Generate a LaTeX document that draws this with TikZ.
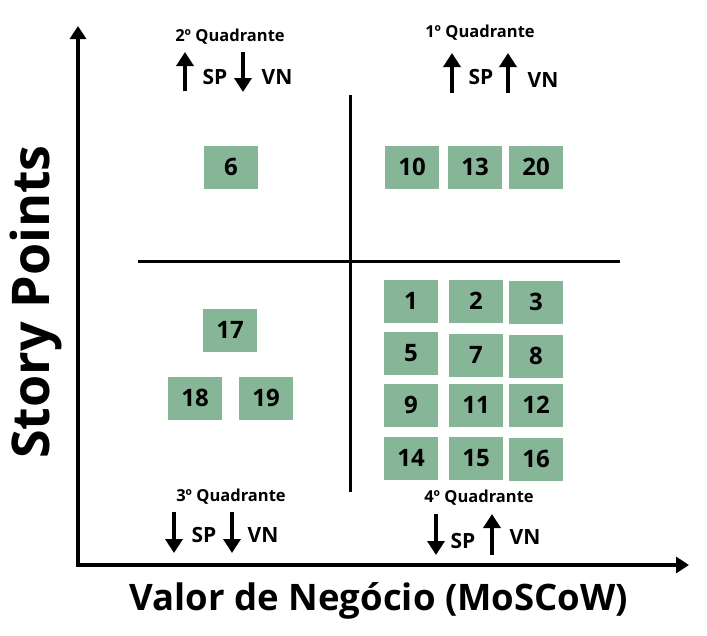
\documentclass[tikz,border=0pt]{standalone}
\usepackage{fontspec}
\setmainfont{Open Sans}
\usetikzlibrary{arrows.meta}
\definecolor{cardgreen}{RGB}{134,181,152}
\tikzset{
    x=1pt, y=-1pt,
    card/.style={fill=cardgreen, draw=white, line width=0.8pt, minimum width=55pt, minimum height=44pt, inner sep=0pt, font=\fontsize{24}{26}\selectfont\bfseries},
    axis/.style={{Triangle[length=13pt,width=16pt]}-{Triangle[length=13pt,width=16pt]}, line width=4pt},
    divider/.style={line width=3pt},
    trend/.style={-{Triangle[length=14pt,width=17pt]}, line width=3.6pt},
    quad/.style={font=\fontsize{16.5}{18}\selectfont\bfseries},
    tag/.style={font=\fontsize{21}{23}\selectfont\bfseries}
}
\begin{document}
\begin{tikzpicture}
\useasboundingbox (0,0) rectangle (707,635);

% axes
\coordinate (top) at (78,26);
\coordinate (origin) at (78,565);
\coordinate (right) at (689,565);
\draw[axis] (top) -- (origin) -- (right);
\node[font=\fontsize{36.5}{38}\selectfont\bfseries] (xlabel) at (379,601) {Valor de Negócio (MoSCoW)};
\node[font=\fontsize{52}{54}\selectfont\bfseries, rotate=90] (ylabel) at (36,302) {Story Points};

% quadrant lines
\draw[divider] (350,95) -- (350,492);
\draw[divider] (138,261) -- (620,261);

% 2nd quadrant
\node[quad] (q2) at (230,37) {2º Quadrante};
\draw[trend] (185,91) -- ++(0,-39);
\node[tag] (q2sp) at (215,77) {SP};
\draw[trend] (243,52) -- ++(0,40);
\node[tag] (q2vn) at (277,77) {VN};

% 1st quadrant
\node[quad] (q1) at (480,33) {1º Quadrante};
\draw[trend] (452,93) -- ++(0,-40);
\node[tag] (q1sp) at (481,77) {SP};
\draw[trend] (508,93) -- ++(0,-40);
\node[tag] (q1vn) at (543,80) {VN};

% 3rd quadrant
\node[quad] (q3) at (231,497) {3º Quadrante};
\draw[trend] (174,512) -- ++(0,41);
\node[tag] (q3sp) at (204,535) {SP};
\draw[trend] (232,512) -- ++(0,41);
\node[tag] (q3vn) at (263,535) {VN};

% 4th quadrant
\node[quad] (q4) at (479,498) {4º Quadrante};
\draw[trend] (436,514) -- ++(0,41);
\node[tag] (q4sp) at (463,541) {SP};
\draw[trend] (492,555) -- ++(0,-41);
\node[tag] (q4vn) at (525,537) {VN};

% stories
\node[card] (s6) at (231,167) {6};
\node[card] (s10) at (412,167) {10};
\node[card] (s13) at (475,167) {13};
\node[card] (s20) at (536,167) {20};

\node[card] (s17) at (230,330) {17};
\node[card] (s18) at (195,398) {18};
\node[card] (s19) at (266,398) {19};

\node[card] (s1) at (411,301) {1};
\node[card] (s2) at (476,301) {2};
\node[card] (s3) at (536,302) {3};
\node[card] (s5) at (411,353) {5};
\node[card] (s7) at (476,355) {7};
\node[card] (s8) at (536,356) {8};
\node[card] (s9) at (411,405) {9};
\node[card] (s11) at (476,405) {11};
\node[card] (s12) at (536,405) {12};
\node[card] (s14) at (411,458) {14};
\node[card] (s15) at (476,458) {15};
\node[card] (s16) at (536,459) {16};
\end{tikzpicture}
\end{document}
